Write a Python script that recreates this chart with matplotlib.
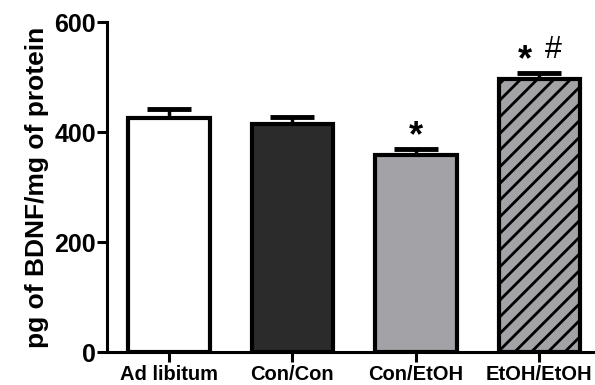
import matplotlib
matplotlib.use("Agg")
import matplotlib.pyplot as plt
import numpy as np

categories = ["Ad libitum", "Con/Con", "Con/EtOH", "EtOH/EtOH"]
means = [425, 415, 358, 496]
sems = [17, 12, 11, 11]
annotations = ["", "", "*", "*"]
annotations2 = ["", "", "", "#"]
yticks = [0, 200, 400, 600]

face_colors = ["#ffffff", "#2b2b2b", "#a3a2a7", "#a3a2a7"]
hatches = [None, None, None, "//"]

plt.rcParams['font.family'] = ['Liberation Sans', 'DejaVu Sans']
plt.rcParams['hatch.linewidth'] = 2.0

fig = plt.figure(figsize=(5.95, 3.85), dpi=100)
ax = fig.add_axes([0.18, 0.0857, 0.82, 0.857])

x = np.arange(len(categories))
bars = ax.bar(x, means, width=0.66, color=face_colors, edgecolor="black",
              linewidth=3, zorder=3)
for b, h in zip(bars, hatches):
    if h:
        b.set_hatch(h)
ax.errorbar(x, means, yerr=[np.zeros(len(sems)), sems], fmt="none",
            ecolor="black", elinewidth=2.5, capsize=16, capthick=3.5, zorder=2)

for xi, m, s, a, a2 in zip(x, means, sems, annotations, annotations2):
    if a and not a2:
        ax.text(xi, m + s + 6, a, ha="center", va="baseline", fontsize=26,
                fontweight="bold")
    elif a:
        ax.text(xi - 0.12, m + s + 6, a, ha="center", va="baseline", fontsize=26,
                fontweight="bold")
        ax.text(xi + 0.11, m + s + 28, a2, ha="center", va="baseline", fontsize=22,
                fontweight="normal")

ax.set_xlim(-0.5, 3.45)
ax.set_ylim(0, 600)
ax.set_yticks(yticks)
ax.set_xticks(x)
ax.set_xticklabels(categories, fontsize=14.5, fontweight="bold")
for lab in ax.get_yticklabels():
    lab.set_fontsize(18)
    lab.set_fontweight("bold")
ax.set_ylabel("pg of BDNF/mg of protein", fontsize=19, fontweight="bold",
              labelpad=4)

for side in ["top", "right"]:
    ax.spines[side].set_visible(False)
for side in ["left", "bottom"]:
    ax.spines[side].set_linewidth(2.2)
ax.tick_params(axis="both", width=2.2, length=7)
ax.tick_params(axis="y", pad=1)
ax.tick_params(axis="x", pad=2)

fig.savefig("out.png", dpi=100)
